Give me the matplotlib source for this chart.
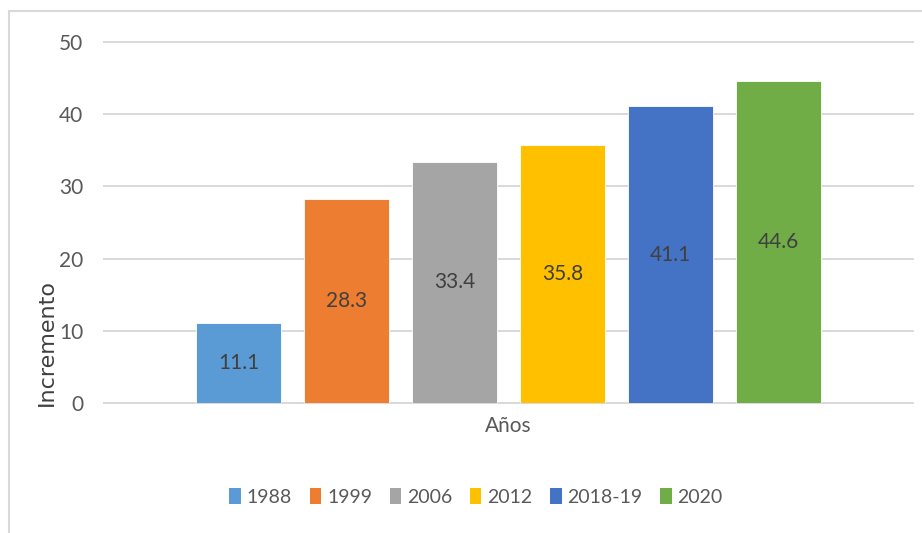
import matplotlib.pyplot as plt
from matplotlib.lines import Line2D
from matplotlib.patches import Patch

years = ["1988", "1999", "2006", "2012", "2018-19", "2020"]
values = [11.1, 28.3, 33.4, 35.8, 41.1, 44.6]
colors = ["#5b9bd5", "#ed7d31", "#a5a5a5", "#ffc000", "#4472c4", "#70ad47"]
yticks = [0, 10, 20, 30, 40, 50]

txt = "#595959"
plt.rcParams["font.family"] = ["Lato", "DejaVu Sans"]

fig = plt.figure(figsize=(9.22, 5.33), dpi=100)
W, H = 922, 533
ax = fig.add_axes([104 / W, 1 - 403 / H, (913 - 104) / W, (403 - 42) / H])

step = 108 / 809
width = 85 / 809
for i, (yr, v, c) in enumerate(zip(years, values, colors)):
    x = (i - 2.5) * step
    ax.bar(x, v, width=width, color=c, edgecolor="white", linewidth=0.6, label=yr, zorder=3)
    ax.text(x, v / 2, f"{v:.1f}", ha="center", va="center", fontsize=15, color="#404040", zorder=4)

ax.set_xlim(-0.5, 0.5)
ax.set_ylim(0, 50)
ax.set_yticks(yticks)
ax.set_yticklabels([str(t) for t in yticks], fontsize=15, color=txt)
ax.set_xticks([])
ax.tick_params(axis="y", length=0, pad=15)
ax.grid(axis="y", color="#d9d9d9", linewidth=1.4, zorder=0)
for gl in ax.get_ygridlines():
    gl.set_clip_on(False)
for s in ax.spines.values():
    s.set_visible(False)

fig.text(47 / W, 1 - 343 / H, "Incremento", rotation=90, ha="center", va="center",
         fontsize=16, color="#404040", fontfamily=["DejaVu Sans"])
fig.text(508 / W, 1 - 426 / H, "Años", ha="center", va="center", fontsize=15, color=txt)

handles = [Patch(facecolor=c, label=y) for y, c in zip(years, colors)]
fig.legend(handles=handles, loc="center", bbox_to_anchor=(476 / W, 1 - 497 / H), ncol=6,
           frameon=False, fontsize=14, labelcolor=txt, handlelength=0.6, handleheight=0.9,
           handletextpad=0.3, columnspacing=0.9)

fig.add_artist(Line2D([9 / W, 9 / W], [0, 1 - 11 / H], color="#d9d9d9", linewidth=1.5))
fig.add_artist(Line2D([9 / W, 1], [1 - 11 / H, 1 - 11 / H], color="#d9d9d9", linewidth=1.5))

fig.savefig("out.png", dpi=100)
